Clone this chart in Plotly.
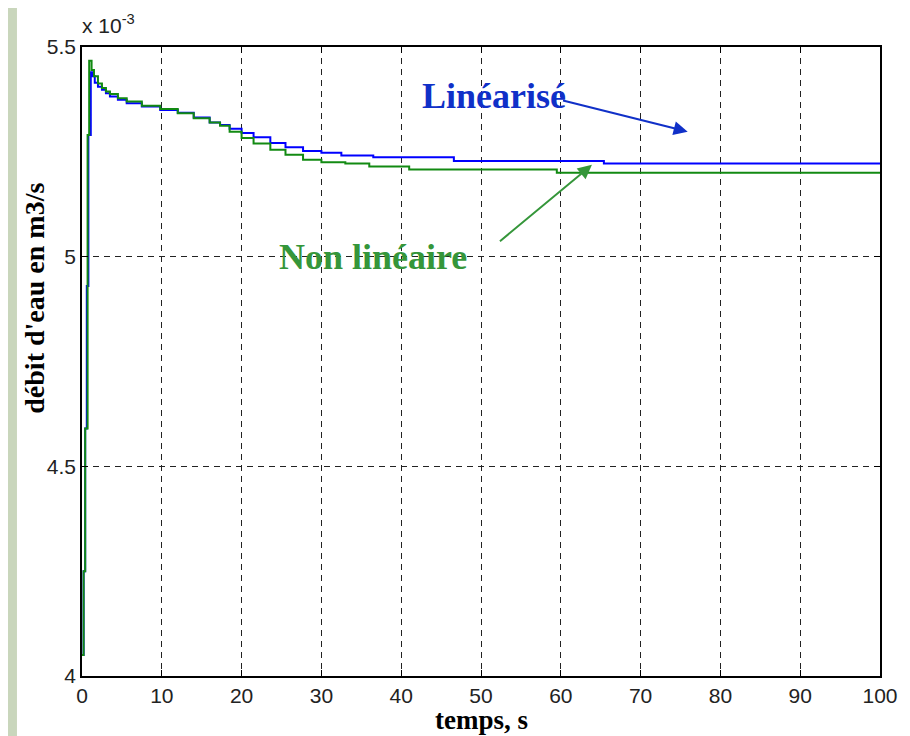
import plotly.graph_objects as go

# débit d'eau (x 10^-3 m3/s)
t_lin = [0, 0.2, 0.4, 0.6, 0.8, 1.1, 1.3, 1.6, 2.0, 2.5, 3.0, 3.5, 4.5, 5.6, 7.5,
         9.8, 12, 14, 16, 17.3, 18.5, 20, 21.5, 23.6, 25.5, 27.7, 30, 32.5,
         36.5, 46.6, 65.4, 100]
q_lin = [4.05, 4.25, 4.59, 4.93, 5.29, 5.44, 5.43, 5.415, 5.405, 5.398, 5.39,
         5.382, 5.374, 5.366, 5.358, 5.35, 5.343, 5.332, 5.32, 5.314, 5.305,
         5.295, 5.285, 5.271, 5.261, 5.252, 5.248, 5.241, 5.237, 5.228, 5.222,
         5.222]

t_nl = [0, 0.2, 0.4, 0.7, 0.9, 1.2, 1.5, 2.0, 2.5, 3.0, 3.5, 4.5, 5.6, 7.5, 9.8,
        12, 14, 16, 17.3, 18.5, 20, 21.5, 23.6, 25.5, 27.7, 30, 33, 36, 41,
        59.5, 100]
q_nl = [4.05, 4.25, 4.59, 5.29, 5.467, 5.445, 5.43, 5.413, 5.402, 5.394, 5.388,
        5.378, 5.37, 5.36, 5.352, 5.342, 5.33, 5.32, 5.312, 5.298, 5.283, 5.27,
        5.255, 5.243, 5.231, 5.225, 5.222, 5.215, 5.208, 5.2, 5.2]

x_ticks = [0, 10, 20, 30, 40, 50, 60, 70, 80, 90, 100]
y_ticks = [4, 4.5, 5, 5.5]
y_labels = ["4", "4.5", "5", "5.5"]

blue = "#0000ff"
green = "#128a12"
serif = "Liberation Serif, Times New Roman, serif"
sans = "Liberation Sans, Arial, sans-serif"

fig = go.Figure()
fig.add_trace(go.Scatter(x=t_lin, y=q_lin, mode="lines", line_shape="hv",
                         line=dict(color=blue, width=2), name="Linéarisé"))
fig.add_trace(go.Scatter(x=t_nl, y=q_nl, mode="lines", line_shape="hv",
                         line=dict(color=green, width=2), name="Non linéaire"))

axis_style = dict(showline=True, linecolor="black", linewidth=1.5, mirror="ticks",
                  ticks="inside", ticklen=6, tickcolor="black",
                  showgrid=True, gridcolor="#222222", gridwidth=1.3,
                  griddash="6px,5px", zeroline=False,
                  tickfont=dict(family=sans, size=21, color="#222222"))

fig.update_xaxes(range=[0, 100], tickvals=x_ticks, **axis_style)
fig.update_yaxes(range=[4, 5.5], tickvals=y_ticks, ticktext=y_labels, **axis_style)

# fond blanc de la figure sur bordure verte
fig.add_shape(type="rect", xref="paper", yref="paper", x0=-0.0815, x1=1.0288,
              y0=-0.2, y1=1.2, fillcolor="white", line_width=0, layer="below")

fig.add_annotation(text="x 10<sup>-3</sup>", xref="paper", yref="paper",
                   x=-0.003, y=1.012, xanchor="left", yanchor="bottom",
                   showarrow=False, font=dict(family=sans, size=21, color="#222222"))
fig.add_annotation(text="<b>temps, s</b>", xref="paper", yref="paper",
                   x=0.5, y=-0.07, xanchor="center", yanchor="middle",
                   showarrow=False, font=dict(family=serif, size=27, color="black"))
fig.add_annotation(text="<b>débit d'eau en m3/s</b>", xref="paper", yref="paper",
                   x=-0.06, y=0.6, xanchor="center", yanchor="middle",
                   textangle=-90, showarrow=False,
                   font=dict(family=serif, size=28, color="black"))

# étiquettes et flèches
fig.add_annotation(text="<b>Linéarisé</b>", x=51.6, y=5.383, showarrow=False,
                   font=dict(family=serif, size=36, color="#1030c8"))
fig.add_annotation(x=75.9, y=5.298, ax=59.9, ay=5.374, axref="x", ayref="y",
                   text=" ", showarrow=True, arrowhead=2, arrowsize=1.4,
                   arrowwidth=2, arrowcolor="#1030c8")
fig.add_annotation(text="<b>Non linéaire</b>", x=36.5, y=5.0, showarrow=False,
                   font=dict(family=serif, size=36, color="#35963a"))
fig.add_annotation(x=63.9, y=5.219, ax=52.0, ay=5.031, axref="x", ayref="y",
                   text=" ", showarrow=True, arrowhead=2, arrowsize=1.4,
                   arrowwidth=2, arrowcolor="#35963a")

fig.update_layout(width=902, height=728, showlegend=False,
                  margin=dict(l=74, r=30, t=39, b=60),
                  paper_bgcolor="#c9d6bc", plot_bgcolor="white")

fig.write_html("out.html")
